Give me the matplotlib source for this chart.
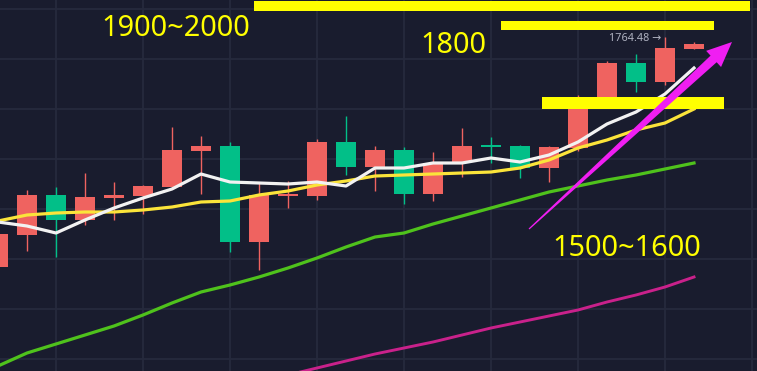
import numpy as np
import matplotlib.pyplot as plt
from matplotlib.patches import Rectangle, Polygon

# candles, index 0..24 (red = up, green = down)
opens  = [1649.5, 1665.5, 1685.5, 1673.0, 1684.0, 1685.0, 1689.5, 1707.5, 1710.0, 1662.0,
          1685.0, 1685.0, 1712.0, 1699.5, 1708.0, 1686.0, 1702.0, 1710.5, 1710.0, 1699.0,
          1709.0, 1733.0, 1751.5, 1742.0, 1758.5]
highs  = [1667.0, 1688.0, 1689.5, 1696.5, 1692.0, 1690.5, 1719.5, 1715.0, 1712.0, 1691.5,
          1692.5, 1713.5, 1725.0, 1710.0, 1709.5, 1707.0, 1719.0, 1714.5, 1710.5, 1710.0,
          1735.5, 1752.5, 1756.0, 1764.48, 1762.0]
lows   = [1649.0, 1657.5, 1654.5, 1670.5, 1673.0, 1676.0, 1689.0, 1686.0, 1657.0, 1648.0,
          1679.0, 1683.0, 1695.5, 1687.5, 1681.0, 1682.5, 1694.5, 1701.5, 1694.0, 1692.0,
          1707.5, 1732.0, 1737.0, 1740.5, 1758.5]
closes = [1666.0, 1685.5, 1673.0, 1684.5, 1685.5, 1690.0, 1708.0, 1710.0, 1662.0, 1685.5,
          1686.0, 1712.0, 1699.5, 1708.0, 1686.0, 1701.5, 1710.0, 1709.5, 1699.0, 1709.5,
          1732.5, 1751.5, 1742.0, 1759.0, 1761.0]

# moving averages
ma_white  = [1672.0, 1670.0, 1666.5, 1673.0, 1679.0, 1684.0, 1688.5, 1696.0, 1692.0, 1691.5,
             1691.0, 1692.0, 1690.0, 1699.0, 1699.0, 1701.5, 1701.5, 1704.0, 1702.0, 1705.5,
             1712.0, 1721.0, 1727.0, 1736.0, 1749.0]
ma_yellow = [1672.5, 1675.5, 1676.5, 1677.0, 1677.0, 1678.0, 1679.5, 1682.0, 1682.5, 1685.5,
             1687.5, 1690.5, 1692.5, 1695.0, 1695.5, 1696.0, 1696.5, 1697.0, 1699.0, 1703.0,
             1709.0, 1713.0, 1718.0, 1721.5, 1728.5]
ma_green  = [1600.0, 1606.5, 1611.0, 1615.5, 1620.0, 1625.5, 1631.5, 1637.0, 1640.5, 1644.5,
             1649.0, 1654.0, 1659.5, 1664.5, 1666.5, 1671.0, 1675.0, 1679.0, 1683.0, 1687.0,
             1690.0, 1693.0, 1695.5, 1698.5, 1701.5]
ma_purple_start = 10
ma_purple = [1595.5, 1599.0, 1602.5, 1606.0, 1609.0, 1612.0, 1615.5, 1619.0, 1622.0, 1625.0,
             1628.0, 1632.0, 1635.5, 1639.5, 1644.5]

# hand drawn marks
zones = [  # (x0, x1, y_low, y_high)
    (8.83, 25.93, 1777.5, 1782.5),
    (17.34, 24.69, 1768.0, 1772.5),
    (18.76, 25.03, 1728.5, 1734.5),
]
labels = [  # (x, y, text)
    (3.55, 1765.0, "1900~2000"),
    (14.55, 1756.5, "1800"),
    (19.1, 1655.0, "1500~1600"),
]
arrow_from = (18.31, 1668.5)
arrow_to = (25.31, 1762.0)

BG = "#191c2e"
UP = "#ef6360"
DOWN = "#02bf88"

fig = plt.figure(figsize=(7.57, 3.71), dpi=100, facecolor=BG)
ax = fig.add_axes([0, 0, 1, 1])
ax.set_facecolor(BG)
ax.set_xlim(2 / 29, 759 / 29)
ax.set_ylim(1783 - 0.5 * 371, 1783)
for s in ax.spines.values():
    s.set_visible(False)
ax.set_xticks(np.arange(2, 27, 3))
ax.set_yticks(np.arange(1778.5, 1590, -25))
ax.tick_params(length=0, labelbottom=False, labelleft=False)
ax.grid(True, color="#262a3d", linewidth=1.3)
ax.set_axisbelow(True)

idx = np.arange(len(opens))
for i in idx:
    o, h, l, c = opens[i], highs[i], lows[i], closes[i]
    col = UP if c >= o else DOWN
    ax.vlines(i, l, h, color=col, linewidth=1.0, zorder=2)
    lo, hi = min(o, c), max(o, c)
    ax.add_patch(Rectangle((i - 0.33, lo), 0.66, max(hi - lo, 1.0),
                           facecolor=col, edgecolor="none", zorder=3))

ax.plot(idx, ma_green, color="#4fc21c", linewidth=2.3, zorder=4)
ax.plot(np.arange(ma_purple_start, ma_purple_start + len(ma_purple)), ma_purple,
        color="#c9218b", linewidth=2.1, zorder=4)
ax.plot(idx, ma_yellow, color="#fbe43a", linewidth=2.3, zorder=4)
ax.plot(idx, ma_white, color="#f2f2f2", linewidth=2.3, zorder=5)

for x0, x1, y0, y1 in zones:
    ax.add_patch(Rectangle((x0, y0), x1 - x0, y1 - y0, facecolor="#ffff00",
                           edgecolor="none", zorder=6))

for x, y, t in labels:
    ax.text(x, y, t, color="#ffff00", fontsize=20.8, family=["Noto Sans", "DejaVu Sans"],
            va="baseline", ha="left", zorder=7)

ax.text(22.86, 1762.5, "1764.48 \u2192", color="#aeb1c0", fontsize=7.8,
        family=["Noto Sans", "DejaVu Sans"], va="baseline", ha="right", zorder=7)

# tapered magenta arrow, built in pixel space
p0 = ax.transData.transform(arrow_from)
p1 = ax.transData.transform(arrow_to)
d = p1 - p0
u = d / np.hypot(*d)
n = np.array([-u[1], u[0]])
head_len, head_w, shaft_w, tail_w = 25, 11, 4.5, 0.6
base = p1 - head_len * u
pts = [p0 - tail_w * n, base - shaft_w * n, base - head_w * n, p1,
       base + head_w * n, base + shaft_w * n, p0 + tail_w * n]
fig.patches.append(Polygon(pts, closed=True, facecolor="#f01ef2", edgecolor="none",
                           transform=None, zorder=8))

plt.savefig("out.png", dpi=100, facecolor=BG)
